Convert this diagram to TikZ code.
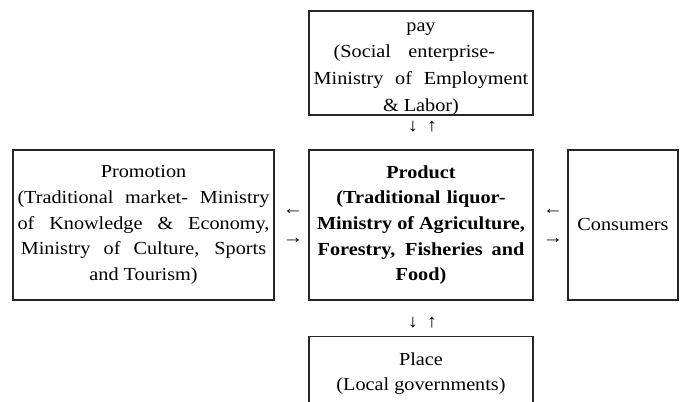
\documentclass[tikz,border=0pt]{standalone}
\usepackage{fontspec}
\setmainfont[FakeStretch=1.1]{Liberation Serif}
\newcommand\jline[2]{\makebox[#1][s]{#2}}
\begin{document}
\begin{tikzpicture}[x=0.75pt,y=-0.75pt,
  box/.style={draw=black!85, line width=0.8pt, inner sep=0pt, align=center,
    font=\fontsize{13.8}{19.2}\selectfont},
  txt/.style={inner sep=0pt, align=center, font=\fontsize{13.8}{20}\selectfont},
  glyph/.style={inner sep=0pt, font=\fontsize{13.8}{16}\selectfont}]
\useasboundingbox[fill=white] (0,0) rectangle (682,402);

\node[box, minimum width=168pt, minimum height=78pt] (pay) at (421,63) {};
\node[txt] (paytxt) at ([yshift=-4.4pt]pay.center)
  {pay\\\makebox[131pt][l]{\jline{121pt}{(Social enterprise-}}\\\jline{161pt}{Ministry of Employment}\\\& Labor)};

\node[box, minimum width=195.75pt, minimum height=112.5pt] (promo) at (143.5,225)
  {Promotion\\\jline{189pt}{(Traditional market- Ministry}\\\jline{189pt}{of Knowledge \& Economy,}\\\jline{184pt}{Ministry of Culture, Sports}\\and Tourism)};

\node[box, minimum width=168pt, minimum height=112.5pt, font=\fontsize{13.8}{19.2}\selectfont\bfseries] (product) at (421,225)
  {Product\\\jline{127pt}{(Traditional liquor-}\\\jline{156pt}{Ministry of Agriculture,}\\\jline{155pt}{Forestry, Fisheries and}\\Food)};

\node[box, minimum width=82.5pt, minimum height=112.5pt] (cons) at (623,225) {Consumers};

\node[box, minimum width=168pt, minimum height=55pt] (place) at (421,373.5)
  {Place\\(Local governments)};

% arrow glyphs between boxes
\node[glyph] (a1) at (413,127) {↓};
\node[glyph] (a2) at (432,127) {↑};
\node[glyph] (a3) at (413,323) {↓};
\node[glyph] (a4) at (432,323) {↑};
\node[glyph] (a5) at (293,212) {←};
\node[glyph] (a6) at (293,241) {→};
\node[glyph] (a7) at (553,212) {←};
\node[glyph] (a8) at (553,241) {→};
\end{tikzpicture}
\end{document}
